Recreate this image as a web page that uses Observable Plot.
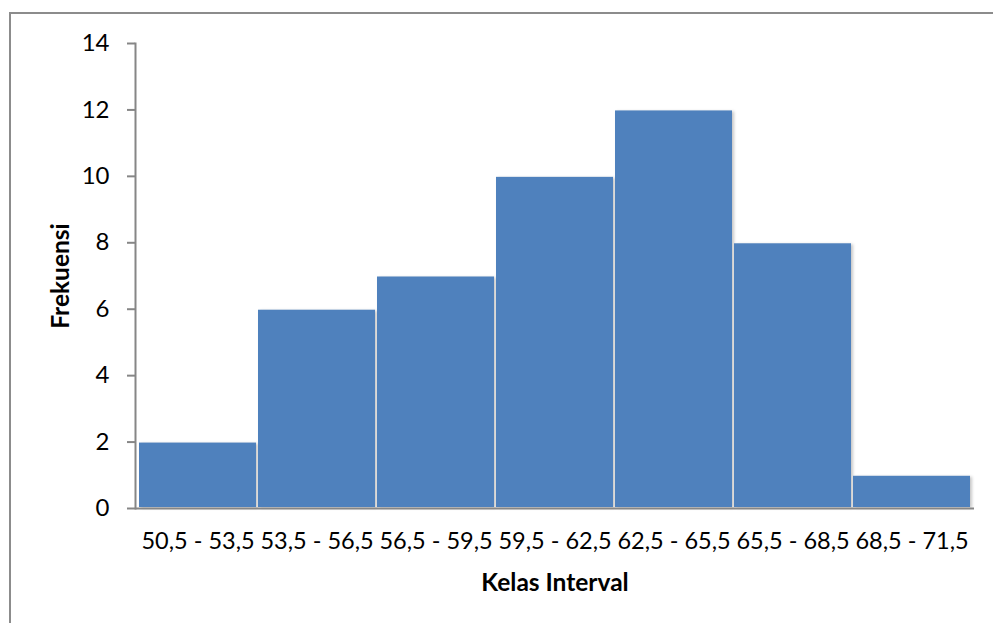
<!DOCTYPE html>
<html>
<head>
<meta charset="utf-8">
<script src="https://cdn.jsdelivr.net/npm/d3@7"></script>
<script src="https://cdn.jsdelivr.net/npm/@observablehq/plot@0.6"></script>
<style>
  html, body { margin: 0; padding: 0; background: #fff; }
  #chart { position: relative; width: 993px; height: 623px; overflow: hidden; }
  #border {
    position: absolute; left: 9px; top: 12px; right: -2px; bottom: -2px;
    border-top: 2px solid #8c8c8c; border-left: 2px solid #8c8c8c;
  }
  #chart svg { position: absolute; left: 0; top: 0; }
  .bars rect { filter: drop-shadow(2px 1px 1.5px rgba(0,0,0,0.22)); }
</style>
</head>
<body>
<div id="chart"><div id="border"></div></div>
<script>
// Class intervals and their frequencies
const kelas = ["50,5 - 53,5", "53,5 - 56,5", "56,5 - 59,5", "59,5 - 62,5", "62,5 - 65,5", "65,5 - 68,5", "68,5 - 71,5"];
const frekuensi = [2, 6, 7, 10, 12, 8, 1];
const yTicks = [0, 2, 4, 6, 8, 10, 12, 14];
const xTitle = "Kelas Interval";
const yTitle = "Frekuensi";

const rows = kelas.map((k, i) => ({kelas: k, frekuensi: frekuensi[i]}));
const axisColor = "#868686";

const chart = Plot.plot({
  width: 993,
  height: 623,
  marginLeft: 135,
  marginRight: 19,
  marginTop: 43,
  marginBottom: 115,
  style: {fontFamily: "Lato, sans-serif", fontSize: "23.5px", color: "#000", background: "transparent"},
  x: {domain: kelas, padding: 0, label: null},
  y: {domain: [0, 14], label: null},
  marks: [
    Plot.barY(rows, {x: "kelas", y: "frekuensi", fill: "#4f81bd", inset: 1, className: "bars"}),
    Plot.frame({anchor: "left", stroke: axisColor, strokeWidth: 2}),
    Plot.ruleY([0], {stroke: axisColor, strokeWidth: 2}),
    Plot.axisY({ticks: yTicks, tickSize: 8, tickPadding: 18, stroke: axisColor, strokeWidth: 2, fill: "#000", fontSize: 24, label: null}),
    Plot.axisX({tickSize: 0, tickPadding: 24, fill: "#000", fontSize: 23.5, label: null}),
    Plot.text([xTitle], {frameAnchor: "bottom", lineAnchor: "middle", textAnchor: "middle", dy: 75, fontWeight: "bold", fontSize: 24.5, fill: "#000"}),
    Plot.text([yTitle], {frameAnchor: "left", lineAnchor: "middle", textAnchor: "middle", dx: -74, rotate: -90, fontWeight: "bold", fontSize: 24.5, fill: "#000"})
  ]
});

document.getElementById("chart").appendChild(chart);
</script>
</body>
</html>
